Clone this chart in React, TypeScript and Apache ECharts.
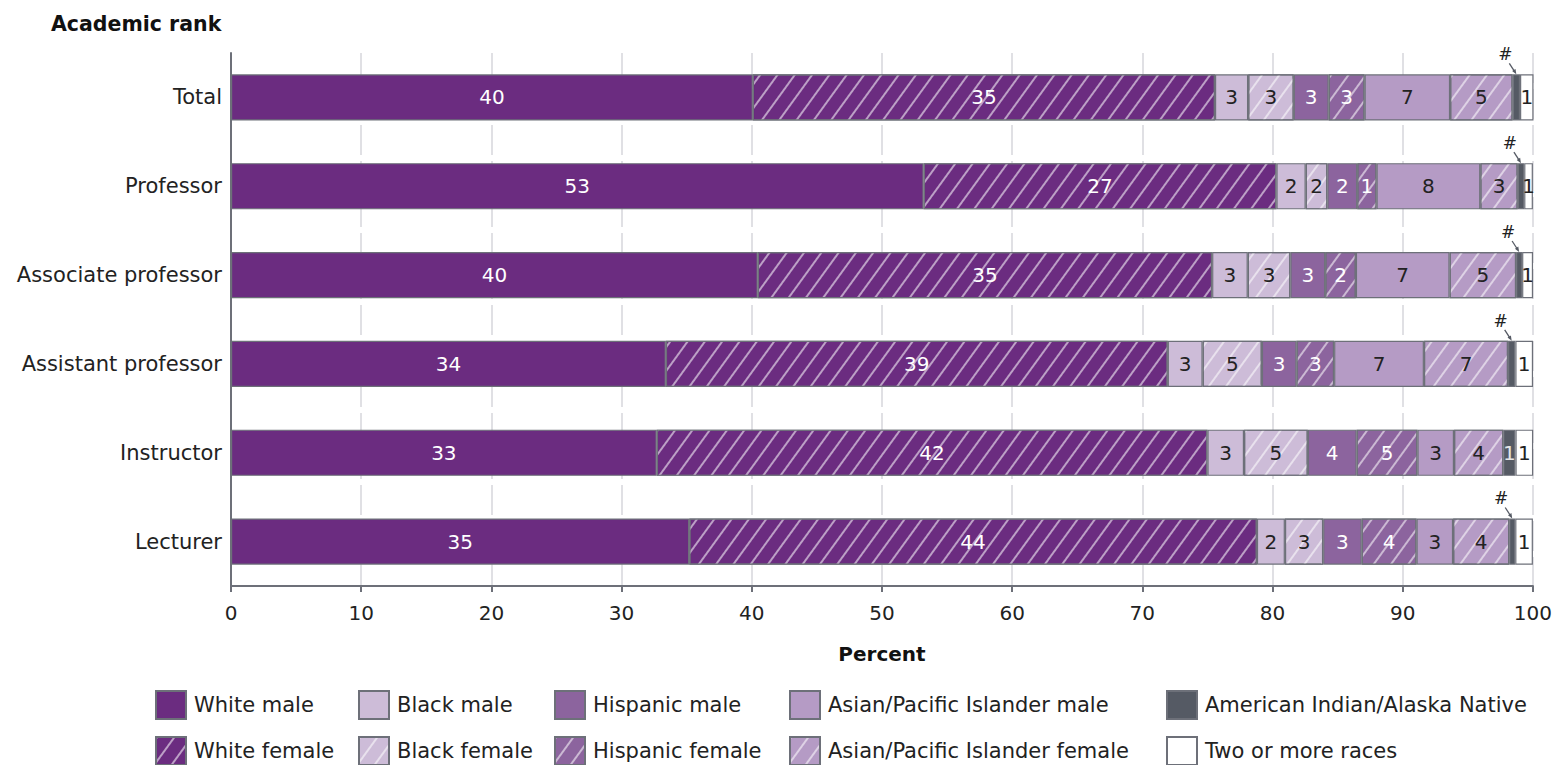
import React, { useEffect, useRef } from "react";
import * as echarts from "echarts";

const ranks = ["Total", "Professor", "Associate professor", "Assistant professor", "Instructor", "Lecturer"];

const whiteMale = [40.08, 53.2, 40.46, 33.4, 32.7, 35.2];
const whiteFemale = [35.5, 27.1, 34.9, 38.55, 42.3, 43.6];
const blackMale = [2.55, 2.25, 2.74, 2.68, 2.81, 2.15];
const blackFemale = [3.5, 1.66, 3.27, 4.55, 4.9, 2.94];
const hispanicMale = [2.68, 2.3, 2.68, 2.66, 3.75, 2.96];
const hispanicFemale = [2.76, 1.48, 2.35, 2.89, 4.67, 4.21];
const asianMale = [6.57, 7.97, 7.2, 6.9, 2.81, 2.81];
const asianFemale = [4.8, 2.87, 5.11, 6.46, 3.78, 4.31];
const aian = [0.57, 0.5, 0.46, 0.56, 0.94, 0.46];
const twoOrMore = [1.1, 0.67, 0.84, 1.36, 1.36, 1.36];

const whiteMaleLbl = ["40", "53", "40", "34", "33", "35"];
const whiteFemaleLbl = ["35", "27", "35", "39", "42", "44"];
const blackMaleLbl = ["3", "2", "3", "3", "3", "2"];
const blackFemaleLbl = ["3", "2", "3", "5", "5", "3"];
const hispanicMaleLbl = ["3", "2", "3", "3", "4", "3"];
const hispanicFemaleLbl = ["3", "1", "2", "3", "5", "4"];
const asianMaleLbl = ["7", "8", "7", "7", "3", "3"];
const asianFemaleLbl = ["5", "3", "5", "7", "4", "4"];
const aianLbl = ["#", "#", "#", "#", "1", "#"];
const twoOrMoreLbl = ["1", "1", "1", "1", "1", "1"];

const xTicks = [0, 10, 20, 30, 40, 50, 60, 70, 80, 90, 100];

const FONT = "DejaVu Sans";
const BORDER = "#6d7079";

const hatch = {
  symbol: "rect",
  symbolSize: 1,
  dashArrayX: [1, 0],
  dashArrayY: [1.4, 12],
  rotation: -Math.PI * 0.3,
  color: "rgba(255,255,255,0.55)",
};

type S = { name: string; data: number[]; lbl: string[]; color: string; text: string; hatched: boolean };

const seriesDefs: S[] = [
  { name: "White male", data: whiteMale, lbl: whiteMaleLbl, color: "#6b2c80", text: "#ffffff", hatched: false },
  { name: "White female", data: whiteFemale, lbl: whiteFemaleLbl, color: "#6b2c80", text: "#ffffff", hatched: true },
  { name: "Black male", data: blackMale, lbl: blackMaleLbl, color: "#cdbcd8", text: "#222222", hatched: false },
  { name: "Black female", data: blackFemale, lbl: blackFemaleLbl, color: "#cdbcd8", text: "#222222", hatched: true },
  { name: "Hispanic male", data: hispanicMale, lbl: hispanicMaleLbl, color: "#8c649e", text: "#ffffff", hatched: false },
  { name: "Hispanic female", data: hispanicFemale, lbl: hispanicFemaleLbl, color: "#8c649e", text: "#ffffff", hatched: true },
  { name: "Asian/Pacific Islander male", data: asianMale, lbl: asianMaleLbl, color: "#b59bc5", text: "#222222", hatched: false },
  { name: "Asian/Pacific Islander female", data: asianFemale, lbl: asianFemaleLbl, color: "#b59bc5", text: "#222222", hatched: true },
  { name: "American Indian/Alaska Native", data: aian, lbl: aianLbl, color: "#555a64", text: "#e6e6e6", hatched: false },
  { name: "Two or more races", data: twoOrMore, lbl: twoOrMoreLbl, color: "#ffffff", text: "#222222", hatched: false },
];

const legendCols = [
  { left: 155, items: ["White male", "White female"] },
  { left: 358, items: ["Black male", "Black female"] },
  { left: 554, items: ["Hispanic male", "Hispanic female"] },
  { left: 789, items: ["Asian/Pacific Islander male", "Asian/Pacific Islander female"] },
  { left: 1166, items: ["American Indian/Alaska Native", "Two or more races"] },
];

export default function App() {
  const ref = useRef<HTMLDivElement>(null);
  useEffect(() => {
    document.body.style.margin = "0";
    const chart = echarts.init(ref.current!, null, { renderer: "svg" });
    const option: any = {
      animation: false,
      title: {
        text: "Academic rank",
        left: 46,
        top: 8,
        textStyle: { fontFamily: FONT, fontSize: 20.5, fontWeight: "bold", color: "#111" },
      },
      grid: { left: 231, right: 19, top: 53, bottom: 179, containLabel: false },
      xAxis: {
        type: "value",
        min: 0,
        max: 100,
        interval: 10,
        name: "Percent",
        nameLocation: "middle",
        nameGap: 58,
        nameTextStyle: { fontFamily: FONT, fontSize: 20, fontWeight: "bold", color: "#111" },
        axisLine: { show: true, lineStyle: { color: BORDER, width: 2 } },
        axisTick: { show: true, length: 6, lineStyle: { color: BORDER, width: 2 } },
        axisLabel: {
          fontFamily: FONT,
          fontSize: 20,
          color: "#222",
          margin: 17,
          formatter: (v: number) => (xTicks.includes(v) ? String(v) : ""),
        },
        splitLine: { show: true, lineStyle: { color: "#d6d6dc", width: 1.5, type: [30, 6] } },
      },
      yAxis: {
        type: "category",
        data: ranks,
        inverse: true,
        axisLine: { show: true, lineStyle: { color: BORDER, width: 2 } },
        axisTick: { show: false },
        axisLabel: { fontFamily: FONT, fontSize: 21, color: "#222", margin: 9 },
        splitLine: { show: false },
      },
      legend: legendCols.map((c) => ({
        orient: "vertical",
        left: c.left,
        top: 690,
        height: 120,
        padding: 0,
        itemWidth: 30,
        itemHeight: 28,
        itemGap: 16,
        icon: "rect",
        selectedMode: false,
        data: c.items,
        textStyle: { fontFamily: FONT, fontSize: 21, color: "#222", padding: [0, 0, 0, 3] },
      })),
      series: seriesDefs.map((s) => ({
        name: s.name,
        type: "bar",
        stack: "all",
        barWidth: "52%",
        data: s.data,
        itemStyle: {
          color: s.color,
          borderColor: BORDER,
          borderWidth: 1.2,
          ...(s.hatched ? { decal: hatch } : {}),
        },
        label: {
          show: true,
          position: "inside",
          fontFamily: FONT,
          fontSize: 20,
          color: s.text,
          formatter: (p: any) => (s.lbl[p.dataIndex] === "#" ? "" : s.lbl[p.dataIndex]),
        },
        emphasis: { disabled: true },
      })),
    };
    chart.setOption(option);

    // "#" annotations pointing to the American Indian/Alaska Native segment
    const p0 = chart.convertToPixel({ xAxisIndex: 0, yAxisIndex: 0 }, [0, ranks[0]]) as number[];
    const p1 = chart.convertToPixel({ xAxisIndex: 0, yAxisIndex: 0 }, [0, ranks[1]]) as number[];
    const barH = Math.abs(p1[1] - p0[1]) * 0.52;
    const graphics: any[] = [];
    ranks.forEach((r, i) => {
      if (aianLbl[i] !== "#") return;
      let before = 0;
      for (let k = 0; k < 8; k++) before += seriesDefs[k].data[i];
      const mid = before + aian[i] / 2;
      const p = chart.convertToPixel({ xAxisIndex: 0, yAxisIndex: 0 }, [mid, r]) as number[];
      const top = p[1] - barH / 2;
      const x = p[0];
      graphics.push({
        type: "text",
        x: x - 11,
        y: top - 20,
        style: { text: "#", fontFamily: FONT, fontSize: 17, fill: "#222", align: "center", verticalAlign: "middle" },
      });
      graphics.push({
        type: "line",
        shape: { x1: x - 7, y1: top - 11, x2: x - 1.5, y2: top - 2.5 },
        style: { stroke: "#555a64", lineWidth: 1.3 },
      });
      graphics.push({
        type: "polygon",
        shape: { points: [[x, top], [x - 4.2, top - 3.2], [x - 0.8, top - 5.4]] },
        style: { fill: "#555a64" },
      });
    });
    chart.setOption({ graphic: graphics });

    return () => chart.dispose();
  }, []);
  return <div ref={ref} style={{ width: 1555, height: 765 }} />;
}
